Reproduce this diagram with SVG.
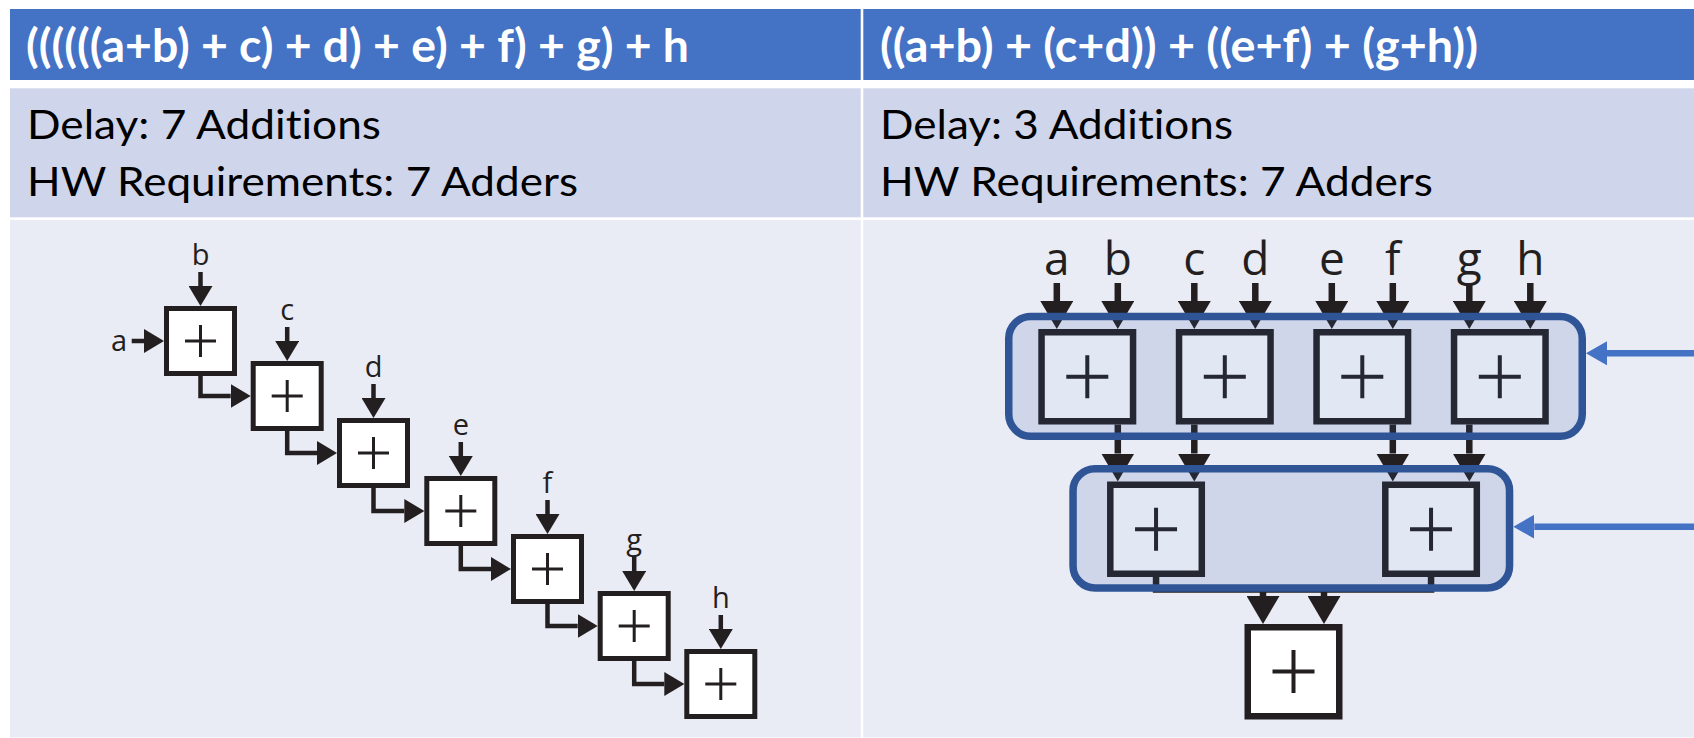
<svg xmlns="http://www.w3.org/2000/svg" width="1694" height="738" viewBox="0 0 1694 738">
  <defs>
    <style>
      .hdr { fill: #4472C4; }
      .row2 { fill: #CFD5EA; }
      .row3 { fill: #E9EBF5; }
      .hdrtxt { font-family: Lato, "Liberation Sans", sans-serif; font-weight: bold; font-size: 45px; fill: #FFFFFF; font-variant-ligatures: none; }
      .bodytxt { font-family: Lato, "Liberation Sans", sans-serif; font-size: 40px; fill: #000000; font-variant-ligatures: none; }
      .lbl-s { font-family: "Open Sans", "Noto Sans", sans-serif; font-size: 29px; fill: #231F20; text-anchor: middle; }
      .lbl-l { font-family: "Open Sans", "Noto Sans", sans-serif; font-size: 46px; fill: #231F20; text-anchor: middle; }
      .box-s { fill: #FFFFFF; stroke: #231F20; stroke-width: 5; }
      .plus-s { fill: none; stroke: #231F20; stroke-width: 3; }
      .box-l { fill: #FFFFFF; stroke: #231F20; stroke-width: 6.5; }
      .plus-l { fill: none; stroke: #231F20; stroke-width: 4; }
      .wire-s { fill: none; stroke: #231F20; stroke-width: 4.5; stroke-linejoin: miter; marker-end: url(#arrS); }
      .wire-l { fill: none; stroke: #231F20; stroke-width: 6.5; stroke-linejoin: miter; }
      .wire-la { marker-end: url(#arrL); }
      .stage { fill: #2F5FA8; fill-opacity: 0.14; stroke: #2F5597; stroke-width: 7.5; }
      .pointer { fill: none; stroke: #4472C4; stroke-width: 6.5; marker-end: url(#arrB); }
    </style>
    <marker id="arrS" markerUnits="userSpaceOnUse" viewBox="0 0 20 24" markerWidth="20" markerHeight="24" refX="0" refY="12" orient="auto">
      <path d="M0,0 L20,12 L0,24 Z" fill="#231F20"/>
    </marker>
    <marker id="arrL" markerUnits="userSpaceOnUse" viewBox="0 0 28 33" markerWidth="28" markerHeight="33" refX="0" refY="16.5" orient="auto">
      <path d="M0,0 L28,16.5 L0,33 Z" fill="#231F20"/>
    </marker>
    <marker id="arrB" markerUnits="userSpaceOnUse" viewBox="0 0 21 24" markerWidth="21" markerHeight="24" refX="0" refY="12" orient="auto">
      <path d="M0,0 L21,12 L0,24 Z" fill="#4472C4"/>
    </marker>
  </defs>

  <!-- table -->
  <rect x="0" y="0" width="1694" height="738" fill="#FFFFFF"/>
  <g id="table">
    <rect class="hdr" x="10" y="9" width="850.7" height="71"/>
    <rect class="hdr" x="863.3" y="9" width="830.7" height="71"/>
    <rect class="row2" x="10" y="88.3" width="850.7" height="129"/>
    <rect class="row2" x="863.3" y="88.3" width="830.7" height="129"/>
    <rect class="row3" x="10" y="220" width="850.7" height="517.5"/>
    <rect class="row3" x="863.3" y="220" width="830.7" height="517.5"/>
  </g>

  <g id="captions">
    <text class="hdrtxt" x="26" y="62" textLength="663" lengthAdjust="spacingAndGlyphs">((((((a+b) + c) + d) + e) + f) + g) + h</text>
    <text class="hdrtxt" x="880" y="62" textLength="598" lengthAdjust="spacingAndGlyphs">((a+b) + (c+d)) + ((e+f) + (g+h))</text>
    <text class="bodytxt" x="27" y="139" textLength="354" lengthAdjust="spacingAndGlyphs">Delay: 7 Additions</text>
    <text class="bodytxt" x="27" y="196" textLength="551" lengthAdjust="spacingAndGlyphs">HW Requirements: 7 Adders</text>
    <text class="bodytxt" x="880" y="139" textLength="353" lengthAdjust="spacingAndGlyphs">Delay: 3 Additions</text>
    <text class="bodytxt" x="880" y="196" textLength="553" lengthAdjust="spacingAndGlyphs">HW Requirements: 7 Adders</text>
  </g>

  <!-- serial chain: inputs -->
  <g id="chain-inputs">
    <text class="lbl-s" x="119" y="351">a</text>
    <text class="lbl-s" x="200.5" y="265">b</text>
    <text class="lbl-s" x="287.2" y="320">c</text>
    <text class="lbl-s" x="373.5" y="377">d</text>
    <text class="lbl-s" x="460.8" y="435">e</text>
    <text class="lbl-s" x="547.5" y="493">f</text>
    <text class="lbl-s" x="634.2" y="550">g</text>
    <text class="lbl-s" x="720.8" y="608">h</text>
  </g>

  <!-- serial chain: connectors -->
  <g id="chain-connectors">
    <path class="wire-s" d="M131.7,341 H144"/>
    <path class="wire-s" d="M200.5,272 V286"/>
    <path class="wire-s" d="M287.2,327 V341"/>
    <path class="wire-s" d="M373.5,384 V398"/>
    <path class="wire-s" d="M460.8,442 V456"/>
    <path class="wire-s" d="M547.5,500 V514"/>
    <path class="wire-s" d="M634.2,557 V571"/>
    <path class="wire-s" d="M720.8,615 V629"/>
    <path class="wire-s" d="M200.5,376 V396 H230.7"/>
    <path class="wire-s" d="M287.2,431 V453 H317"/>
    <path class="wire-s" d="M373.5,488 V511 H404.3"/>
    <path class="wire-s" d="M460.8,546 V569 H491"/>
    <path class="wire-s" d="M547.5,604 V626 H577.7"/>
    <path class="wire-s" d="M634.2,661 V684 H664.3"/>
  </g>

  <!-- serial chain: adders -->
  <g id="chain-add1"><rect class="box-s" x="166.5" y="308.5" width="68" height="65"/><path class="plus-s" d="M185,341 H216 M200.5,325 V357"/></g>
  <g id="chain-add2"><rect class="box-s" x="253.2" y="363.5" width="68" height="65"/><path class="plus-s" d="M271.7,396 H302.7 M287.2,380 V412"/></g>
  <g id="chain-add3"><rect class="box-s" x="339.5" y="420.5" width="68" height="65"/><path class="plus-s" d="M358,453 H389 M373.5,437 V469"/></g>
  <g id="chain-add4"><rect class="box-s" x="426.8" y="478.5" width="68" height="65"/><path class="plus-s" d="M445.3,511 H476.3 M460.8,495 V527"/></g>
  <g id="chain-add5"><rect class="box-s" x="513.5" y="536.5" width="68" height="65"/><path class="plus-s" d="M532,569 H563 M547.5,553 V585"/></g>
  <g id="chain-add6"><rect class="box-s" x="600.2" y="593.5" width="68" height="65"/><path class="plus-s" d="M618.7,626 H649.7 M634.2,610 V642"/></g>
  <g id="chain-add7"><rect class="box-s" x="686.8" y="651.5" width="68" height="65"/><path class="plus-s" d="M705.3,684 H736.3 M720.8,668 V700"/></g>

  <!-- tree: inputs -->
  <g id="tree-inputs">
    <text class="lbl-l" x="1056.8" y="275">a</text>
    <text class="lbl-l" x="1117.8" y="275">b</text>
    <text class="lbl-l" x="1194.3" y="275">c</text>
    <text class="lbl-l" x="1255.3" y="275">d</text>
    <text class="lbl-l" x="1331.8" y="275">e</text>
    <text class="lbl-l" x="1392.8" y="275">f</text>
    <text class="lbl-l" x="1469.3" y="275">g</text>
    <text class="lbl-l" x="1530.3" y="275">h</text>
  </g>

  <!-- tree: connectors -->
  <g id="tree-connectors">
    <path class="wire-l wire-la" d="M1056.8,283 V301"/>
    <path class="wire-l wire-la" d="M1117.8,283 V301"/>
    <path class="wire-l wire-la" d="M1194.3,283 V301"/>
    <path class="wire-l wire-la" d="M1255.3,283 V301"/>
    <path class="wire-l wire-la" d="M1331.8,283 V301"/>
    <path class="wire-l wire-la" d="M1392.8,283 V301"/>
    <path class="wire-l wire-la" d="M1469.3,283 V301"/>
    <path class="wire-l wire-la" d="M1530.3,283 V301"/>
    <path class="wire-l wire-la" d="M1117.8,424.5 V453.5"/>
    <path class="wire-l wire-la" d="M1194.3,424.5 V453.5"/>
    <path class="wire-l wire-la" d="M1392.8,424.5 V453.5"/>
    <path class="wire-l wire-la" d="M1469.3,424.5 V453.5"/>
    <path class="wire-l" d="M1156.05,577 V589.5 H1431.05 V577"/>
    <path class="wire-l wire-la" d="M1263,589.5 V596"/>
    <path class="wire-l wire-la" d="M1324,589.5 V596"/>
  </g>

  <!-- tree: adders -->
  <g id="tree-add1"><rect class="box-l" x="1041.55" y="332.25" width="91.5" height="89"/><path class="plus-l" d="M1066.3,376.75 H1108.3 M1087.3,355.25 V398.25"/></g>
  <g id="tree-add2"><rect class="box-l" x="1179.05" y="332.25" width="91.5" height="89"/><path class="plus-l" d="M1203.8,376.75 H1245.8 M1224.8,355.25 V398.25"/></g>
  <g id="tree-add3"><rect class="box-l" x="1316.55" y="332.25" width="91.5" height="89"/><path class="plus-l" d="M1341.3,376.75 H1383.3 M1362.3,355.25 V398.25"/></g>
  <g id="tree-add4"><rect class="box-l" x="1454.05" y="332.25" width="91.5" height="89"/><path class="plus-l" d="M1478.8,376.75 H1520.8 M1499.8,355.25 V398.25"/></g>
  <g id="tree-add5"><rect class="box-l" x="1110.3" y="484.75" width="91.5" height="89"/><path class="plus-l" d="M1135.05,529.25 H1177.05 M1156.05,507.75 V550.75"/></g>
  <g id="tree-add6"><rect class="box-l" x="1385.3" y="484.75" width="91.5" height="89"/><path class="plus-l" d="M1410.05,529.25 H1452.05 M1431.05,507.75 V550.75"/></g>
  <g id="tree-add7"><rect class="box-l" x="1247.75" y="627.25" width="91.5" height="89"/><path class="plus-l" d="M1272.5,671.5 H1314.5 M1293.5,650 V693"/></g>

  <!-- pipeline stage outlines, tinted over the adders -->
  <g id="stage-1"><rect class="stage" x="1008.75" y="316.5" width="573.5" height="119.75" rx="22" ry="22"/></g>
  <g id="stage-2"><rect class="stage" x="1073.05" y="468.75" width="436.5" height="119.2" rx="22" ry="22"/></g>

  <!-- stage pointers -->
  <g id="stage-pointers">
    <path class="pointer" d="M1694,353.3 H1607"/>
    <path class="pointer" d="M1694,526.7 H1534.3"/>
  </g>
</svg>
